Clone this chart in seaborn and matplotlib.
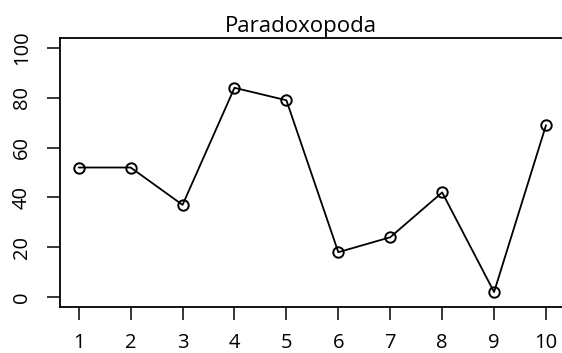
import matplotlib
matplotlib.use("Agg")
import matplotlib.pyplot as plt
import seaborn as sns
import pandas as pd

x_vals = [1, 2, 3, 4, 5, 6, 7, 8, 9, 10]
y_vals = [52, 52, 37, 84, 79, 18, 24, 42, 2, 69]
title = "Paradoxopoda"
y_ticks = [0, 20, 40, 60, 80, 100]

sns.set_style("ticks")
plt.rcParams['font.family'] = ['Open Sans', 'DejaVu Sans']

df = pd.DataFrame({"x": x_vals, "y": y_vals})

fig = plt.figure(figsize=(5.62, 3.53), dpi=100)
ax = fig.add_axes([0.1068, 0.1303, 0.898, 0.7621])
sns.lineplot(data=df, x="x", y="y", ax=ax, color="black", linewidth=1.3,
             marker="o", markersize=7.5, markerfacecolor="none",
             markeredgecolor="black", markeredgewidth=1.4)

ax.set_xlim(0.64, 10.36)
ax.set_ylim(-4, 104)
ax.set_xticks(x_vals)
ax.set_xticklabels([str(v) for v in x_vals])
ax.set_yticks(y_ticks)
ax.set_yticklabels([str(v) for v in y_ticks], rotation=90, va="center")
ax.set_xlabel("")
ax.set_ylabel("")
ax.tick_params(axis="both", direction="out", length=9.4, width=1.1,
               labelsize=14.5, color="black", labelcolor="black")
ax.tick_params(axis="x", pad=9)
ax.tick_params(axis="y", pad=11)
for s in ax.spines.values():
    s.set_visible(True)
    s.set_linewidth(1.3)
    s.set_color("black")
ax.spines["right"].set_visible(False)
ax.set_title(title, fontsize=16, pad=4, color="black", x=0.4775)

fig.savefig("out.png", dpi=100)
